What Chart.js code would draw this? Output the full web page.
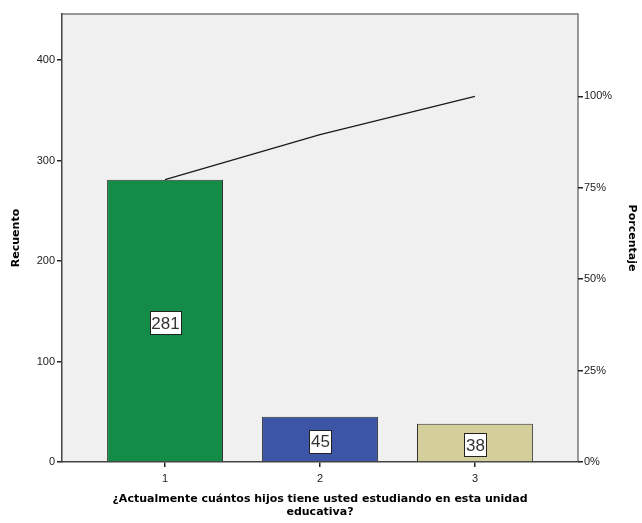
<!DOCTYPE html>
<html>
<head>
<meta charset="utf-8">
<script src="https://cdn.jsdelivr.net/npm/chart.js@4/dist/chart.umd.min.js"></script>
<style>
  body { margin: 0; background: #fff; }
  canvas { display: block; }
</style>
</head>
<body>
<canvas id="grafico" width="642" height="523"></canvas>
<script>
// Datos
const categorias = [1, 2, 3];
const recuentos = [281, 45, 38];
const coloresBarras = ['#128C47', '#3C55A7', '#D4CF9A'];
const ticksRecuento = [0, 100, 200, 300, 400];
const ticksPorcentaje = [0, 25, 50, 75, 100];
const maxRecuento = 446;

// porcentaje acumulado (pareto)
const total = recuentos.reduce((a, b) => a + b, 0);
let acum = 0;
const acumulado = recuentos.map(v => { acum += v; return acum / total * 100; });

const fuenteTicks = { family: 'Liberation Sans, Arial, sans-serif', size: 11 };
const fuenteTitulo = { family: 'DejaVu Sans, Verdana, sans-serif', size: 11, weight: 'bold' };

// fondo gris y marco del area de trazado
const fondoPlugin = {
  id: 'fondo',
  beforeDraw(chart) {
    const { ctx, chartArea: a } = chart;
    ctx.save();
    ctx.fillStyle = '#F0F0F0';
    ctx.fillRect(a.left, a.top, a.right - a.left, a.bottom - a.top);
    ctx.strokeStyle = '#7a7a7a';
    ctx.lineWidth = 1.5;
    ctx.beginPath();
    ctx.moveTo(a.left, a.top);
    ctx.lineTo(a.right, a.top);
    ctx.lineTo(a.right, a.bottom);
    ctx.stroke();
    ctx.restore();
  }
};

// etiquetas con caja blanca en el centro de cada barra
const etiquetasPlugin = {
  id: 'etiquetas',
  afterDatasetsDraw(chart) {
    const { ctx } = chart;
    const meta = chart.getDatasetMeta(1);
    ctx.save();
    ctx.font = '17px Liberation Sans, Arial, sans-serif';
    ctx.textAlign = 'center';
    ctx.textBaseline = 'middle';
    meta.data.forEach((bar, i) => {
      const texto = String(recuentos[i]);
      const cy = (bar.y + bar.base) / 2 + 2;
      const w = Math.round(ctx.measureText(texto).width + 3);
      const h = 23;
      const x0 = Math.round(bar.x - w / 2);
      const y0 = Math.round(cy - h / 2);
      ctx.fillStyle = '#fff';
      ctx.fillRect(x0, y0, w, h);
      ctx.strokeStyle = '#222';
      ctx.lineWidth = 1;
      ctx.strokeRect(x0 + 0.5, y0 + 0.5, w, h);
      ctx.fillStyle = '#333';
      ctx.fillText(texto, bar.x + 0.5, cy + 1.5);
    });
    ctx.restore();
  }
};

new Chart(document.getElementById('grafico'), {
  type: 'bar',
  data: {
    datasets: [
      {
        type: 'line',
        data: categorias.map((c, i) => ({ x: c, y: acumulado[i] })),
        yAxisID: 'y2',
        borderColor: '#1a1a1a',
        borderWidth: 1.3,
        pointRadius: 0,
        tension: 0,
        order: 0
      },
      {
        data: categorias.map((c, i) => ({ x: c, y: recuentos[i] })),
        yAxisID: 'y',
        backgroundColor: coloresBarras,
        borderColor: '#333',
        borderWidth: 1,
        barPercentage: 0.748,
        categoryPercentage: 1,
        order: 1
      }
    ]
  },
  options: {
    responsive: false,
    animation: false,
    layout: { padding: { top: 14, left: 0, right: 0, bottom: 0 } },
    plugins: { legend: { display: false }, tooltip: { enabled: false } },
    scales: {
      x: {
        type: 'linear',
        position: 'bottom',
        offset: false,
        min: 0.335,
        max: 3.665,
        afterBuildTicks: s => { s.ticks = categorias.map(v => ({ value: v })); },
        afterFit: s => { s.height = 61; },
        grid: { offset: false, drawOnChartArea: false, tickLength: 5, color: '#222', lineWidth: 1.5 },
        border: { color: '#444', width: 1.5 },
        ticks: { font: fuenteTicks, color: '#222', padding: 5, callback: v => String(v) },
        title: {
          display: true,
          text: ['¿Actualmente cuántos hijos tiene usted estudiando en esta unidad', 'educativa?'],
          font: fuenteTitulo,
          color: '#000',
          padding: { top: 4, bottom: 4 }
        }
      },
      y: {
        position: 'left',
        min: 0,
        max: maxRecuento,
        afterBuildTicks: s => { s.ticks = ticksRecuento.map(v => ({ value: v })); },
        afterFit: s => { s.width = 62; },
        grid: { drawOnChartArea: false, tickLength: 5, color: '#222', lineWidth: 1.5 },
        border: { color: '#444', width: 1.5 },
        ticks: { font: fuenteTicks, color: '#222', padding: 2 },
        title: { display: true, text: 'Recuento', font: fuenteTitulo, color: '#000', padding: { top: 10, bottom: 4 } }
      },
      y2: {
        position: 'right',
        min: 0,
        max: maxRecuento / total * 100,
        afterBuildTicks: s => { s.ticks = ticksPorcentaje.map(v => ({ value: v })); },
        afterFit: s => { s.width = 64; },
        grid: { drawOnChartArea: false, tickLength: 5, color: '#222', lineWidth: 1.5 },
        border: { display: false },
        ticks: { font: fuenteTicks, color: '#222', padding: 1, callback: v => v + '%' },
        title: { display: true, text: 'Porcentaje', font: fuenteTitulo, color: '#000', padding: 4 }
      }
    }
  },
  plugins: [fondoPlugin, etiquetasPlugin]
});
</script>
</body>
</html>
